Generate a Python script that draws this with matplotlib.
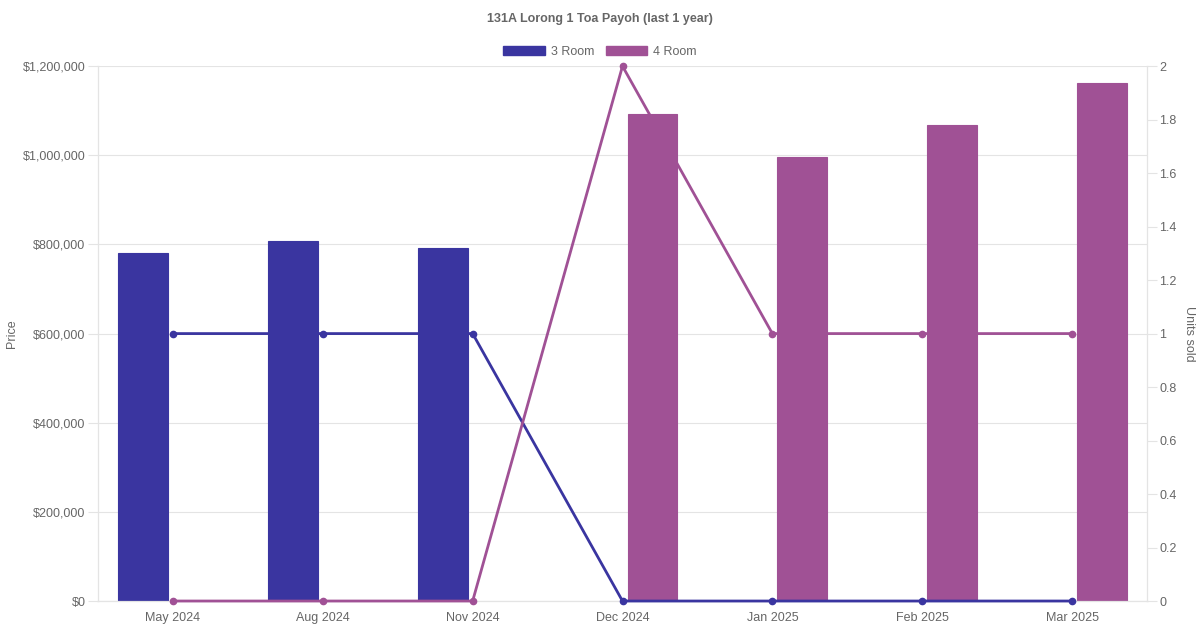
import numpy as np
import matplotlib
matplotlib.use("Agg")
import matplotlib.pyplot as plt
from matplotlib.ticker import FuncFormatter, MultipleLocator
from matplotlib.patches import Patch

plt.rcParams['font.family'] = ['Liberation Sans', 'DejaVu Sans']

meses = ["May 2024", "Aug 2024", "Nov 2024", "Dec 2024", "Jan 2025", "Feb 2025", "Mar 2025"]
preco_3room = [780000, 808000, 793000, None, None, None, None]
preco_4room = [None, None, None, 1092000, 997000, 1068000, 1163000]
vendas_3room = [1, 1, 1, 0, 0, 0, 0]
vendas_4room = [0, 0, 0, 2, 1, 1, 1]

cor_3 = '#3a35a0'
cor_4 = '#a05195'
cinza = '#666666'
grade = '#e4e4e4'

fig = plt.figure(figsize=(12, 6.3), dpi=100)
ax = fig.add_axes([0.0817, 0.046, 0.8741, 0.849])
ax2 = ax.twinx()

x = np.arange(len(meses))
largura = 0.333
for precos, desloc, cor in [(preco_3room, -0.2, cor_3), (preco_4room, 0.2, cor_4)]:
    xs = [x[i] + desloc for i, p in enumerate(precos) if p is not None]
    hs = [p for p in precos if p is not None]
    ax.bar(xs, hs, width=largura, color=cor, edgecolor=cor, linewidth=0.8, zorder=2)

ax2.plot(x, vendas_3room, color=cor_3, linewidth=2.0, marker='o', markersize=4.5, zorder=3, clip_on=False)
ax2.plot(x, vendas_4room, color=cor_4, linewidth=2.0, marker='o', markersize=4.5, zorder=4, clip_on=False)

ax.set_xlim(-0.5, len(meses) - 0.5)
ax.set_ylim(0, 1200000)
ax2.set_ylim(0, 2)
ax.yaxis.set_major_locator(MultipleLocator(200000))
ax2.yaxis.set_major_locator(MultipleLocator(0.2))
ax.yaxis.set_major_formatter(FuncFormatter(lambda v, p: "${:,.0f}".format(v)))
ax2.yaxis.set_major_formatter(FuncFormatter(lambda v, p: "{:g}".format(round(v, 1))))

ax.set_xticks(x)
ax.set_xticklabels(meses)
ax.tick_params(axis='x', length=0, pad=8, labelsize=9, labelcolor=cinza)
ax.tick_params(axis='y', length=7, color=grade, labelsize=9, labelcolor=cinza, pad=2)
ax2.tick_params(axis='y', length=7, color=grade, labelsize=9, labelcolor=cinza, pad=2)

ax.grid(axis='y', color=grade, linewidth=0.8, zorder=0)
ax.set_axisbelow(True)
for a in (ax, ax2):
    a.spines['top'].set_visible(False)
    for s in ('left', 'right', 'bottom'):
        a.spines[s].set_color(grade)

ax.set_ylabel("Price", color=cinza, fontsize=9)
ax.yaxis.set_label_coords(-0.076, 0.5)
ax2.set_ylabel("Units sold", color=cinza, fontsize=9, rotation=270, va='bottom')
ax2.yaxis.set_label_coords(1.034, 0.5)

fig.text(0.5, 0.97, "131A Lorong 1 Toa Payoh (last 1 year)", ha='center', va='center',
         fontsize=9, fontweight='bold', color=cinza)

itens = [Patch(facecolor=cor_3, edgecolor=cor_3), Patch(facecolor=cor_4, edgecolor=cor_4)]
fig.legend(itens, ["3 Room", "4 Room"], loc='center', bbox_to_anchor=(0.5, 0.918), ncol=2,
           frameon=False, fontsize=9, labelcolor=cinza, handlelength=3.3, handleheight=0.8,
           columnspacing=0.9, handletextpad=0.5)

fig.savefig("out.png", dpi=100)
